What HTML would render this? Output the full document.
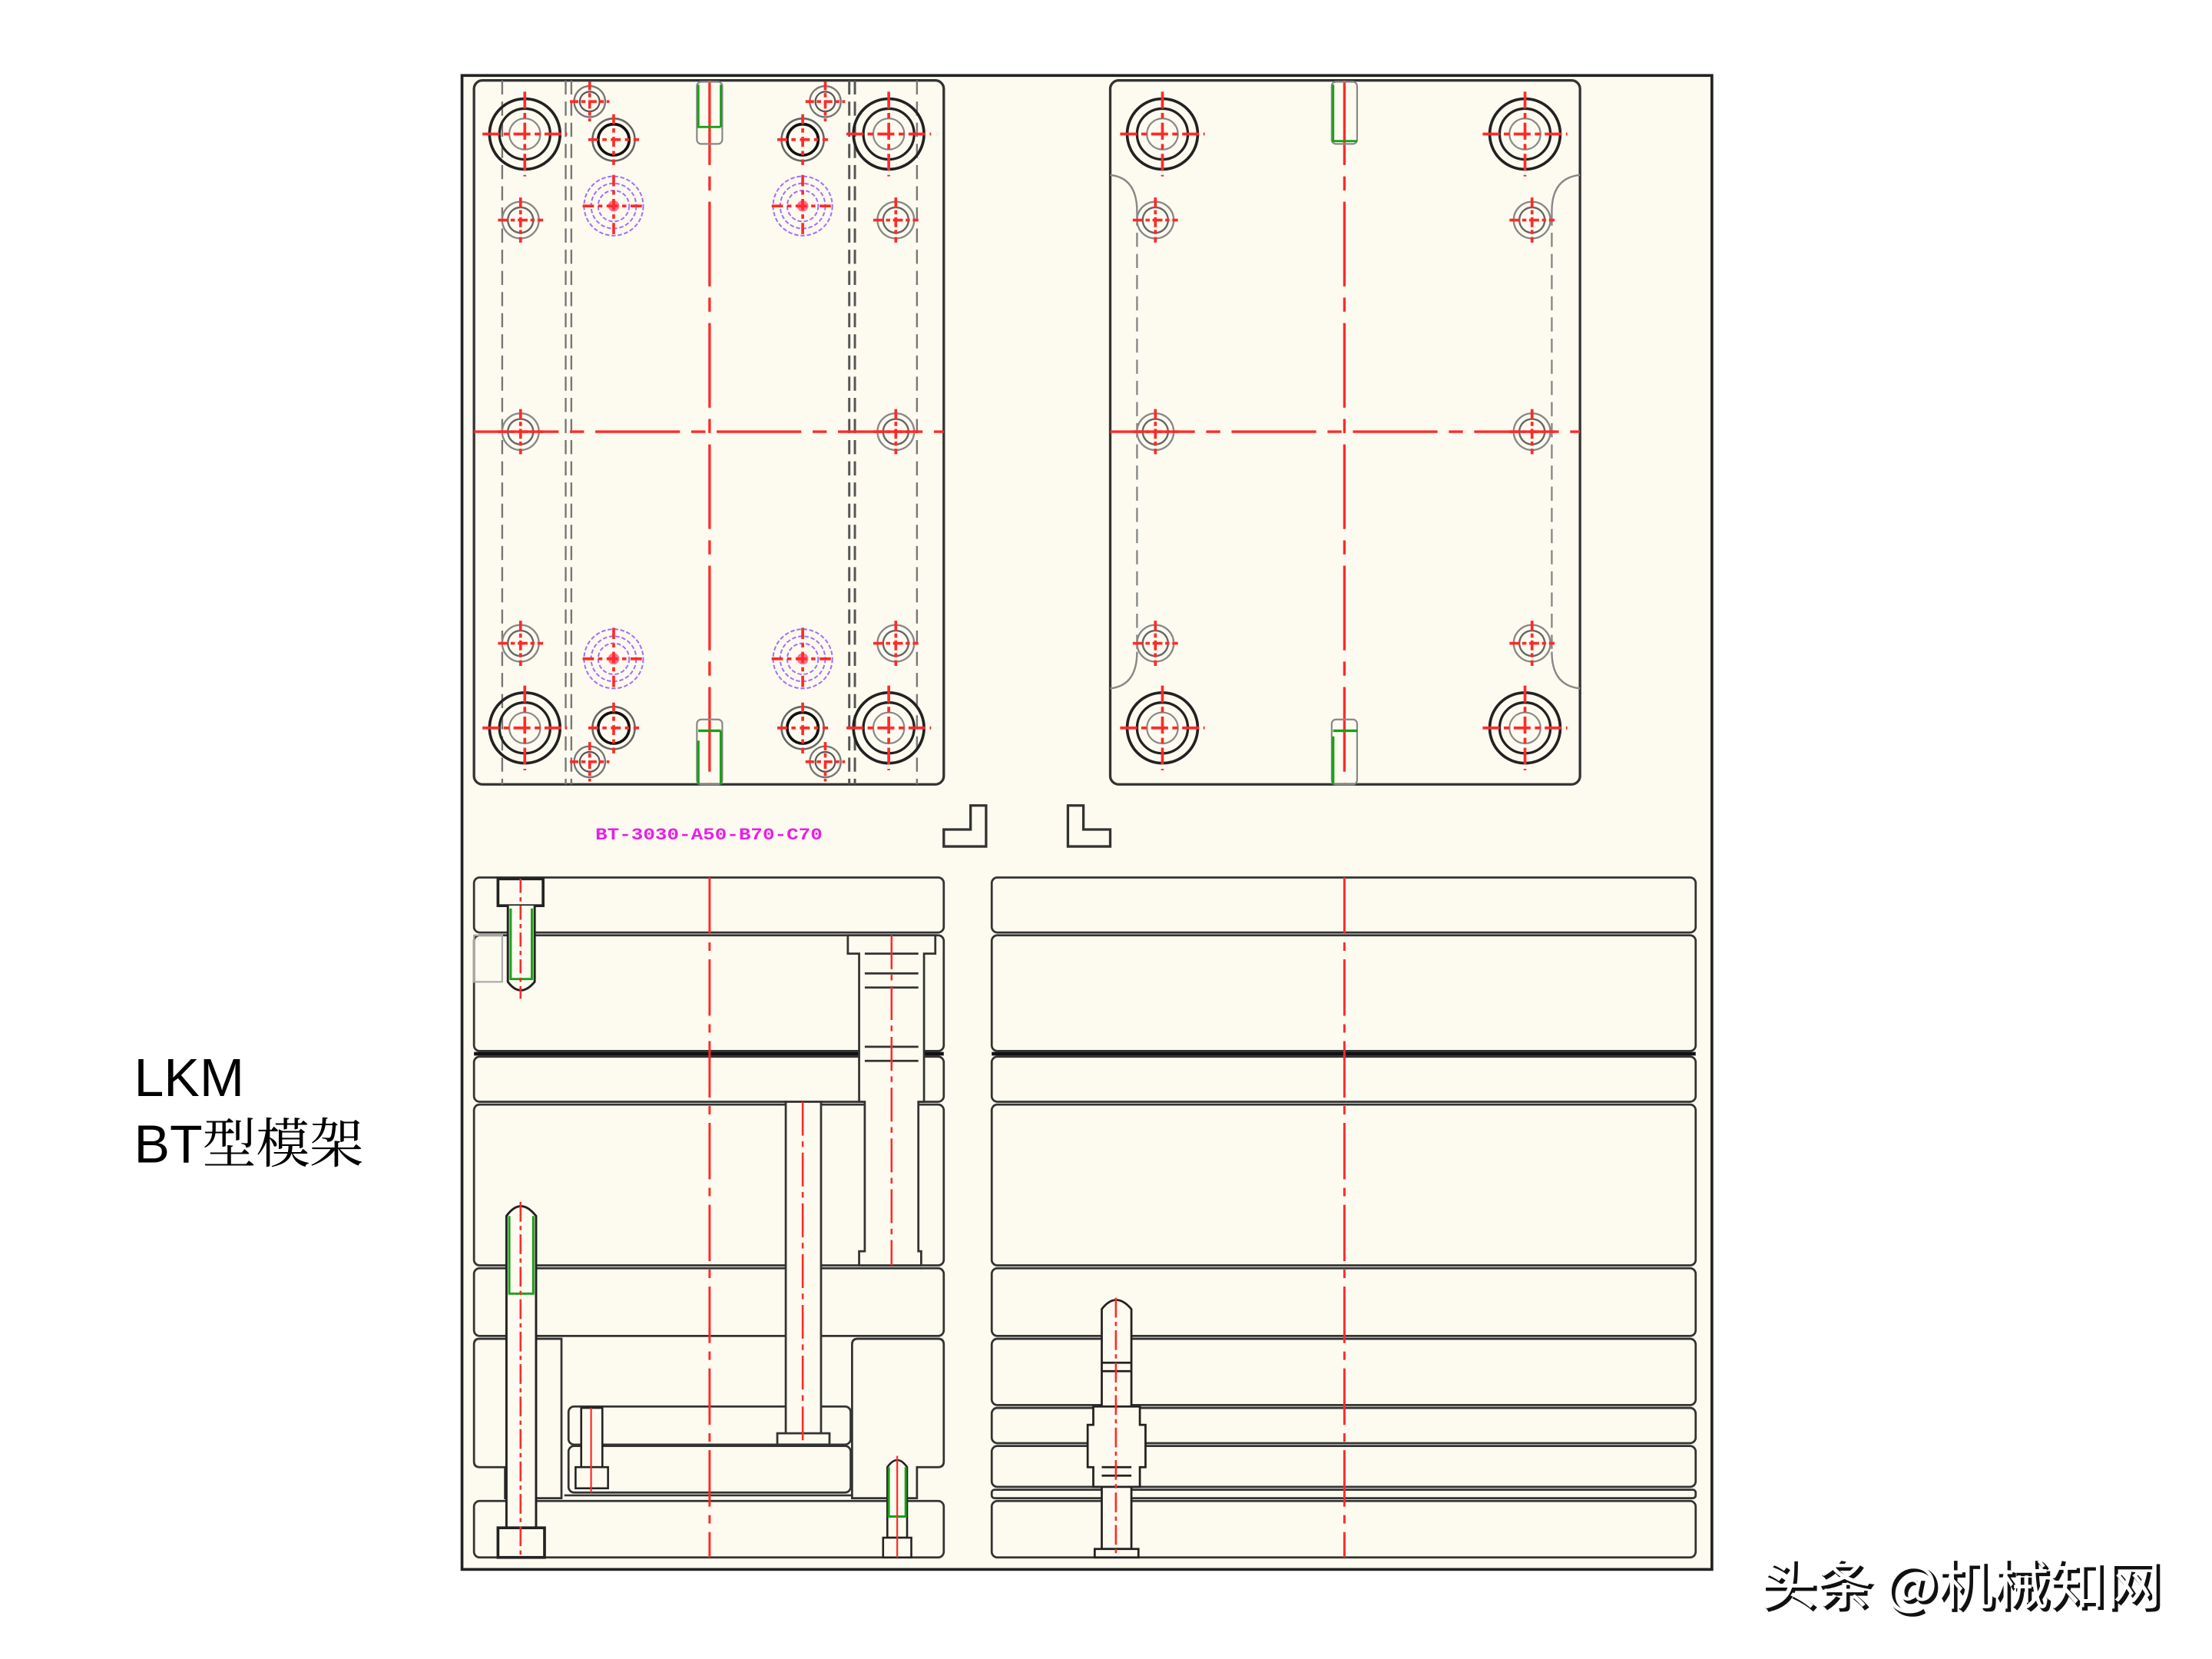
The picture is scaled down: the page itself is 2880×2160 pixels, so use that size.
<!DOCTYPE html>
<html><head><meta charset="utf-8"><style>
html,body{margin:0;padding:0;background:#fff;width:2880px;height:2160px;overflow:hidden}
svg{display:block}
</style></head><body>
<svg width="2880" height="2160" viewBox="0 0 1568 1176" preserveAspectRatio="none" xmlns="http://www.w3.org/2000/svg">
<defs>
<g id="big"><circle r="25" fill="none" stroke="#222" stroke-width="2"/><circle r="18" fill="none" stroke="#222" stroke-width="1.8"/><circle r="11" fill="none" stroke="#888" stroke-width="1.2"/><path d="M-30 0H30M0 -30V30" stroke="#ff2a2a" stroke-width="2" stroke-dasharray="12 3 4 3"/></g>
<g id="med"><circle r="15" fill="none" stroke="#666" stroke-width="1.4"/><circle r="11" fill="none" stroke="#111" stroke-width="2"/><path d="M-18 0H18M0 -18V18" stroke="#ff2a2a" stroke-width="2" stroke-dasharray="7 3 3 3"/></g>
<g id="sm"><circle r="11" fill="none" stroke="#777" stroke-width="1.3"/><circle r="7" fill="none" stroke="#555" stroke-width="1.2"/><path d="M-14 0H14M0 -14V14" stroke="#ff2a2a" stroke-width="2" stroke-dasharray="6 2 3 2"/></g>
<g id="pur"><circle r="21" fill="none" stroke="#a070ff" stroke-width="1.1" stroke-dasharray="3 1.5"/><circle r="16" fill="none" stroke="#a070ff" stroke-width="1.1" stroke-dasharray="3 1.5"/><circle r="11" fill="none" stroke="#a070ff" stroke-width="1.1" stroke-dasharray="3 1.5"/><circle r="4" fill="#ff7090"/><path d="M-22 0H22M0 -22V22" stroke="#ff2a2a" stroke-width="2" stroke-dasharray="8 3 3 3"/></g>
<g id="tiny"><circle r="13" fill="none" stroke="#888" stroke-width="1.3"/><circle r="9" fill="none" stroke="#666" stroke-width="1.3"/><path d="M-16 0H16M0 -16V16" stroke="#ff2a2a" stroke-width="2" stroke-dasharray="7 2 3 2"/></g>
</defs>

<rect x="327.5" y="53.5" width="886" height="1059" fill="#fdfbef" stroke="#222" stroke-width="2"/>

<rect x="336" y="57" width="333" height="499" rx="6" fill="#fdfbef" stroke="#333" stroke-width="1.8"/>
<g stroke="#777" stroke-width="1.3" stroke-dasharray="10 5" fill="none">
<path d="M356 57V556M401 57V556M405 57V556M650 57V556"/>
<path d="M602 57V556M606 57V556" stroke="#555" stroke-width="1.6"/>
</g>
<path d="M503 57V556" stroke="#ff2a2a" stroke-width="1.8" stroke-dasharray="60 8 10 8"/>
<path d="M336 306H669" stroke="#ff2a2a" stroke-width="1.8" stroke-dasharray="60 8 10 8"/>
<use href="#big" x="372" y="95"/><use href="#big" x="630" y="95"/>
<use href="#big" x="372" y="516"/><use href="#big" x="630" y="516"/>
<use href="#med" x="435" y="99"/><use href="#med" x="569" y="99"/>
<use href="#med" x="435" y="516"/><use href="#med" x="569" y="516"/>
<use href="#sm" x="418" y="72"/><use href="#sm" x="585" y="72"/>
<use href="#sm" x="418" y="540"/><use href="#sm" x="585" y="540"/>
<use href="#pur" x="435" y="146"/><use href="#pur" x="569" y="146"/>
<use href="#pur" x="435" y="467"/><use href="#pur" x="569" y="467"/>
<use href="#tiny" x="369" y="156"/><use href="#tiny" x="635" y="156"/>
<use href="#tiny" x="369" y="306"/><use href="#tiny" x="635" y="306"/>
<use href="#tiny" x="369" y="456"/><use href="#tiny" x="635" y="456"/>
<rect x="494" y="58" width="18" height="44" rx="3" fill="none" stroke="#888" stroke-width="1.2"/>
<path d="M495 60V90H511M511 60V90" stroke="#19a019" stroke-width="1.6" fill="none"/>
<rect x="494" y="510" width="18" height="46" rx="3" fill="none" stroke="#888" stroke-width="1.2"/>
<path d="M495 518H511M511 518V556M495 525V556" stroke="#19a019" stroke-width="1.8" fill="none"/>

<rect x="787" y="57" width="333" height="499" rx="6" fill="#fdfbef" stroke="#333" stroke-width="1.8"/>
<g stroke="#888" stroke-width="1.3" fill="none">
<path d="M806 150V460M1100 150V460" stroke-dasharray="10 5"/>
<path d="M787 124Q806 126 806 150M1120 124Q1100 126 1100 150M787 488Q806 486 806 462M1120 488Q1100 486 1100 462"/>
</g>
<path d="M953 57V556" stroke="#ff2a2a" stroke-width="1.8" stroke-dasharray="60 8 10 8"/>
<path d="M787 306H1120" stroke="#ff2a2a" stroke-width="1.8" stroke-dasharray="60 8 10 8"/>
<use href="#big" x="824" y="95"/><use href="#big" x="1081" y="95"/>
<use href="#big" x="824" y="516"/><use href="#big" x="1081" y="516"/>
<use href="#tiny" x="819" y="156"/><use href="#tiny" x="1086" y="156"/>
<use href="#tiny" x="819" y="306"/><use href="#tiny" x="1086" y="306"/>
<use href="#tiny" x="819" y="456"/><use href="#tiny" x="1086" y="456"/>
<rect x="944" y="58" width="18" height="44" rx="3" fill="none" stroke="#888" stroke-width="1.2"/>
<path d="M945 60V100H962" stroke="#19a019" stroke-width="1.6" fill="none"/>
<rect x="944" y="510" width="18" height="46" rx="3" fill="none" stroke="#888" stroke-width="1.2"/>
<path d="M945 518H962M945 522V556" stroke="#19a019" stroke-width="1.8" fill="none"/>

<text x="422" y="595" font-family="Liberation Mono, monospace" font-size="12" font-weight="bold" fill="#e81ee8" textLength="161" lengthAdjust="spacingAndGlyphs">BT-3030-A50-B70-C70</text>
<path d="M688 571H699V600H669V588H688Z" fill="none" stroke="#333" stroke-width="1.8"/>
<path d="M757 571H768V588H787V600H757Z" fill="none" stroke="#333" stroke-width="1.8"/>

<g fill="#fdfbef" stroke="#333" stroke-width="1.5">
<rect x="336" y="622" width="333" height="39" rx="4"/>
<rect x="336" y="663" width="333" height="82" rx="4"/>
<rect x="336" y="749" width="333" height="32" rx="4"/>
<rect x="336" y="783" width="333" height="114" rx="4"/>
<rect x="336" y="899" width="333" height="48" rx="4"/>
<path d="M340 949H398V1062H358V1040H340Q336 1040 336 1036V953Q336 949 340 949Z"/>
<path d="M608 949H665Q669 949 669 953V1036Q669 1040 665 1040H650V1062H604V953Q604 949 608 949Z"/>
<rect x="403" y="997" width="200" height="27" rx="4"/>
<rect x="403" y="1025" width="200" height="33" rx="4"/>
<rect x="336" y="1064" width="333" height="40" rx="4"/>
</g>
<path d="M336 747H669" stroke="#111" stroke-width="2.6"/>
<path d="M400 1060H604" stroke="#333" stroke-width="1.4"/>
<g fill="#fdfbef" stroke="#333" stroke-width="1.5">
<path d="M601 663H663V676H655V781H651V887H653V897H609V887H613V781H609V676H601Z"/>
<path d="M613 676H651M613 690H651M613 700H651M613 742H651M613 752H651" fill="none"/>
<rect x="557" y="781" width="25" height="236"/>
<rect x="551" y="1016" width="37" height="8"/>
</g>
<path d="M632 663V897M569 781V1024" stroke="#ff2a2a" stroke-width="1.4" stroke-dasharray="24 4 4 4"/>
<rect x="336" y="663" width="20" height="33" fill="none" stroke="#aaa" stroke-width="1.2"/>
<rect x="353" y="623" width="32" height="19" fill="#fdfbef" stroke="#222" stroke-width="2"/>
<path d="M360 642V696Q369 708 379 696V642" fill="#fdfbef" stroke="#222" stroke-width="1.6"/>
<path d="M362 644V694H377V644" fill="none" stroke="#19a019" stroke-width="1.6"/>
<path d="M369 623V708" stroke="#ff2a2a" stroke-width="1.4" stroke-dasharray="10 3 3 3"/>
<g fill="#fdfbef" stroke="#222" stroke-width="1.6">
<path d="M359 1083V862Q369 848 380 862V1083Z"/>
<rect x="353" y="1083" width="33" height="21" stroke-width="2"/>
</g>
<path d="M361 862V917H378V862" fill="none" stroke="#19a019" stroke-width="1.6"/>
<path d="M369 852V1104" stroke="#ff2a2a" stroke-width="1.4" stroke-dasharray="14 3 3 3"/>
<g fill="#fdfbef" stroke="#222" stroke-width="1.4">
<rect x="412" y="998" width="15" height="42"/>
<rect x="408" y="1040" width="23" height="15"/>
</g>
<path d="M419 998V1058" stroke="#ff2a2a" stroke-width="1.2"/>
<g fill="#fdfbef" stroke="#222" stroke-width="1.4">
<path d="M629 1090V1040Q636 1030 643 1040V1090Z"/>
<rect x="626" y="1090" width="20" height="14"/>
</g>
<path d="M630 1040V1075H642V1040" fill="none" stroke="#19a019" stroke-width="1.6"/>
<path d="M636 1032V1104" stroke="#ff2a2a" stroke-width="1.2"/>
<path d="M503 622V1104" stroke="#ff2a2a" stroke-width="1.6" stroke-dasharray="40 6 6 6"/>

<g fill="#fdfbef" stroke="#333" stroke-width="1.5">
<rect x="703" y="622" width="499" height="39" rx="4"/>
<rect x="703" y="663" width="499" height="82" rx="4"/>
<rect x="703" y="749" width="499" height="32" rx="4"/>
<rect x="703" y="783" width="499" height="114" rx="4"/>
<rect x="703" y="899" width="499" height="48" rx="4"/>
<rect x="703" y="949" width="499" height="47" rx="4"/>
<rect x="703" y="998" width="499" height="25" rx="4"/>
<rect x="703" y="1025" width="499" height="29" rx="4"/>
<rect x="703" y="1056" width="499" height="6" rx="2"/>
<rect x="703" y="1064" width="499" height="40" rx="4"/>
</g>
<path d="M703 747H1202" stroke="#111" stroke-width="2.6"/>
<g fill="#fdfbef" stroke="#222" stroke-width="1.5">
<path d="M781 1098V928Q791 915 802 928V1098Z"/>
<path d="M775 997H808V1010H812V1040H808V1054H775V1040H771V1010H775Z"/>
<rect x="776" y="1098" width="31" height="6"/>
<path d="M781 966H802M781 972H802M781 1040H802M781 1046H802" fill="none"/>
</g>
<path d="M791 920V1104" stroke="#ff2a2a" stroke-width="1.4" stroke-dasharray="14 3 3 3"/>
<path d="M953 622V1104" stroke="#ff2a2a" stroke-width="1.6" stroke-dasharray="40 6 6 6"/>

<text x="95" y="777" font-family="Liberation Sans, sans-serif" font-size="38" fill="#000">LKM</text>
<text x="95" y="824" font-family="Liberation Sans, 'Noto Serif CJK SC', serif" font-size="38" fill="#000">BT<tspan font-family="'Noto Serif CJK SC', serif">型模架</tspan></text>

<g font-family="'Noto Sans CJK SC', sans-serif" font-size="38">
<text x="1250" y="1139" fill="#111" stroke="#111" stroke-width="1" textLength="284" lengthAdjust="spacingAndGlyphs">头条 @机械知网</text>
<text x="1248" y="1137" fill="#fff" textLength="284" lengthAdjust="spacingAndGlyphs">头条 @机械知网</text>
</g>
</svg>
</body></html>
